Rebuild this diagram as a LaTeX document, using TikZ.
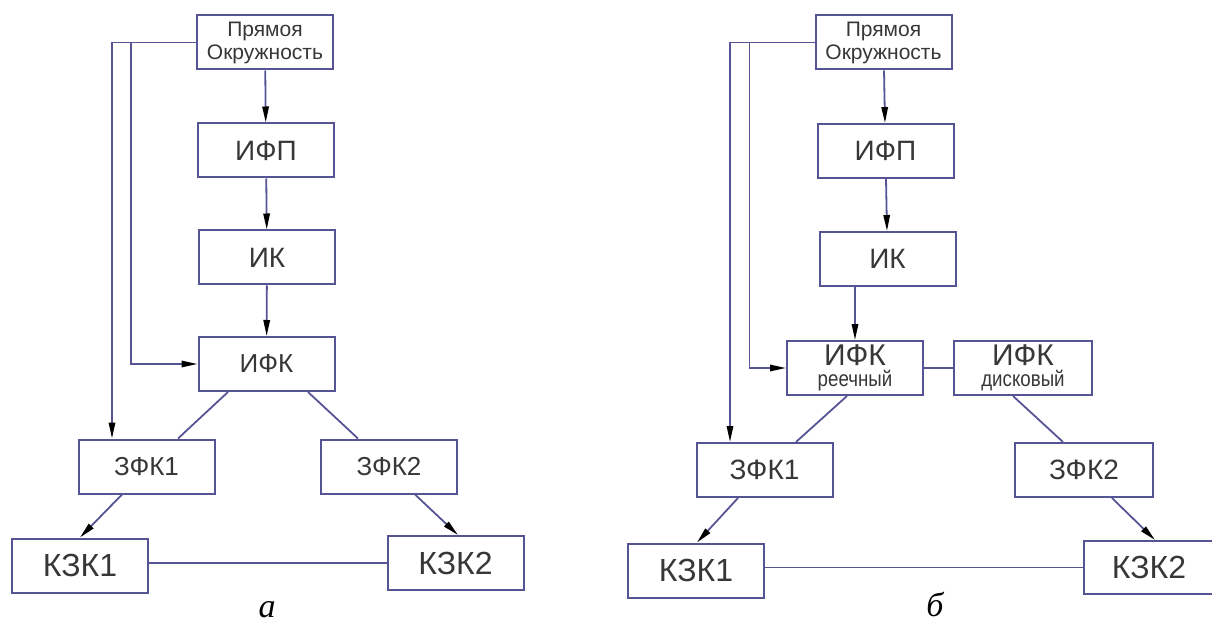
\documentclass[tikz,border=0pt]{standalone}
\usepackage{fontspec}
\setmainfont{Liberation Sans}
\newfontfamily\capfont{Liberation Serif}
\usetikzlibrary{arrows.meta,calc}
\definecolor{schemeblue}{RGB}{85,85,150}
\definecolor{schemetext}{RGB}{55,55,55}

\begin{document}
\begin{tikzpicture}[x=0.5pt, y=-0.5pt,
    box/.style={draw=schemeblue, line width=1pt, inner sep=0pt, minimum width=68pt, minimum height=27pt, text=schemetext, font=\fontsize{14}{14}\selectfont},
    small/.style={box, align=center, font=\fontsize{10.5}{11.5}\selectfont},
    twoline/.style={box, align=center, font=\fontsize{15}{10.5}\selectfont},
    line/.style={draw=schemeblue, line width=0.9pt},
    arrow/.style={line, -{Stealth[length=8pt, width=3.2pt, inset=0pt, color=black]}},
    caption/.style={font=\capfont\itshape\fontsize{17}{17}\selectfont}
]
\useasboundingbox (0,0) rectangle (1212,626);

% ---------------- a ----------------
\node[small] (top) at (265,42.5) {Прямоя\\Окружность};
\node[box] (ifp) at (266,150.5) {ИФП};
\node[box] (ik) at (267,257.5) {ИК};
\node[box, font=\fontsize{13}{13}\selectfont] (ifk) at (266.5,364) {ИФК};
\node[box, font=\fontsize{13}{13}\selectfont] (zfk1) at (146.5,466.5) {ЗФК1};
\node[box, font=\fontsize{13}{13}\selectfont] (zfk2) at (389,466.5) {ЗФК2};
\node[box, font=\fontsize{16}{16}\selectfont] (kzk1) at (80,565.5) {КЗК1};
\node[box, font=\fontsize{16}{16}\selectfont] (kzk2) at (455.5,563) {КЗК2};
\node[caption] (capA) at (267,610) {а};

% chain
\draw[arrow] (top) -- (ifp);
\draw[arrow] (ifp) -- (ik);
\draw[arrow] (ik) -- (ifk);
% feed lines
\draw[arrow] (top.west) -| ($(zfk1.north)+(-34.5,0)$);
\draw[arrow] ($(top.west)+(-65,0)$) |- (ifk.west);
% branches
\draw[line] ($(ifk.south)+(-38.5,0)$) -- ($(zfk1.north)+(31.5,0)$);
\draw[line] ($(ifk.south)+(41.5,0)$) -- ($(zfk2.north)+(-31,0)$);
\draw[arrow] ($(zfk1.south)+(-24.5,0)$) -- (kzk1.north);
\draw[arrow] ($(zfk2.south)+(26,0)$) -- ($(kzk2.north)+(2.5,0)$);
\draw[line] (kzk2.west -| kzk1.east) -- (kzk2.west);

% ---------------- b ----------------
\node[small] (topR) at (883.5,42.5) {Прямоя\\Окружность};
\node[box] (ifpR) at (885.5,151) {ИФП};
\node[box] (ikR) at (887.5,259) {ИК};
\node[twoline] (ifkR) at (855,368) {ИФК\\{\fontsize{11}{11}\selectfont\addfontfeature{FakeStretch=0.85}реечный}};
\node[twoline, minimum width=69pt] (ifkD) at (1023,368) {ИФК\\{\fontsize{11}{11}\selectfont\addfontfeature{FakeStretch=0.85}дисковый}};
\node[box, font=\fontsize{14}{14}\selectfont] (zfk1R) at (764.5,470) {ЗФК1};
\node[box, font=\fontsize{14}{14}\selectfont, minimum width=69pt] (zfk2R) at (1084,470) {ЗФК2};
\node[box, font=\fontsize{16}{16}\selectfont] (kzk1R) at (696,570.5) {КЗК1};
\node[box, font=\fontsize{16}{16}\selectfont, minimum width=65pt, minimum height=26.5pt] (kzk2R) at (1149,567.5) {КЗК2};
\node[caption] (capB) at (935,604) {б};

% chain
\draw[arrow] (topR) -- (ifpR);
\draw[arrow] (ifpR) -- (ikR);
\draw[arrow] (ifkR.north |- ikR.south) -- (ifkR.north);
% feed lines
\draw[arrow] (topR.west) -| ($(zfk1R.north)+(-34.5,0)$);
\draw[arrow] ($(topR.west)+(-65,0)$) |- (ifkR.west);
% branches
\draw[line] (ifkR.east) -- (ifkD.west);
\draw[line] ($(ifkR.south)+(-8,0)$) -- ($(zfk1R.north)+(31.5,0)$);
\draw[line] ($(ifkD.south)+(-10,0)$) -- ($(zfk2R.north)+(-21,0)$);
\draw[arrow] ($(zfk1R.south)+(-26.5,0)$) -- ($(kzk1R.north)+(1,0)$);
\draw[arrow] ($(zfk2R.south)+(28,0)$) -- ($(kzk2R.north)+(6,0)$);
\draw[line] (kzk2R.west -| kzk1R.east) -- (kzk2R.west);

\end{tikzpicture}
\end{document}
